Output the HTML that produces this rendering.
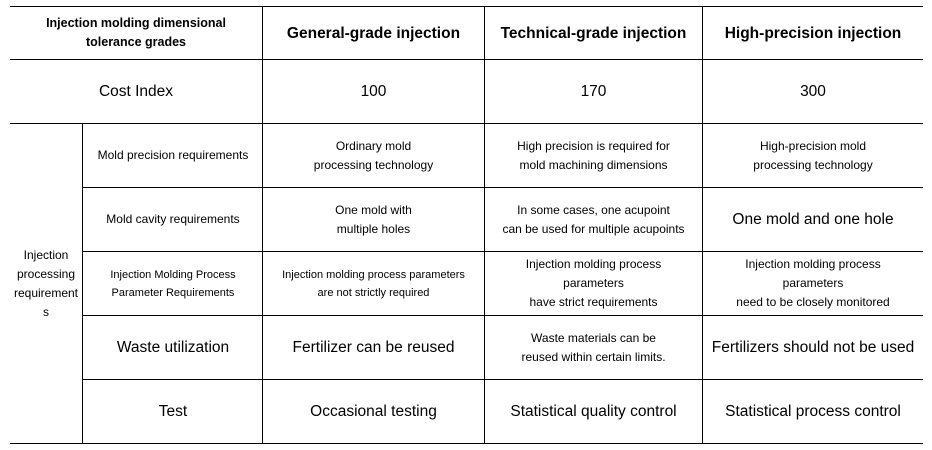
<!DOCTYPE html><html><head><style>
body{margin:0;width:932px;height:450px;background:#fff;position:relative;font-family:"Liberation Sans",sans-serif;color:#000;overflow:hidden}
.h{position:absolute;height:1px;background:#000}
.v{position:absolute;width:1px;background:#000}
.c{position:absolute;display:flex;align-items:center;justify-content:center;text-align:center;line-height:19px}
.s{font-size:12px}.m{font-size:15.5px}.b{font-weight:bold}
</style></head><body>
<div class="h" style="left:10px;width:913px;top:6px"></div>
<div class="h" style="left:10px;width:913px;top:59px"></div>
<div class="h" style="left:10px;width:913px;top:123px"></div>
<div class="h" style="left:82px;width:841px;top:187px"></div>
<div class="h" style="left:82px;width:841px;top:251px"></div>
<div class="h" style="left:82px;width:841px;top:315px"></div>
<div class="h" style="left:82px;width:841px;top:379px"></div>
<div class="h" style="left:10px;width:913px;top:443px"></div>
<div class="v" style="left:262px;top:6px;height:438px"></div>
<div class="v" style="left:484px;top:6px;height:438px"></div>
<div class="v" style="left:702px;top:6px;height:438px"></div>
<div class="v" style="left:82px;top:123px;height:321px"></div>

<div class="c b" style="left:10px;width:252px;top:7px;height:52px;font-size:12.5px">Injection molding dimensional<br>tolerance grades</div>
<div class="c b m" style="left:263px;width:221px;top:7px;height:52px">General-grade injection</div>
<div class="c b m" style="left:485px;width:217px;top:7px;height:52px">Technical-grade injection</div>
<div class="c b m" style="left:703px;width:220px;top:7px;height:52px">High-precision injection</div>

<div class="c m" style="left:10px;width:252px;top:60px;height:63px">Cost Index</div>
<div class="c m" style="left:263px;width:221px;top:60px;height:63px">100</div>
<div class="c m" style="left:485px;width:217px;top:60px;height:63px">170</div>
<div class="c m" style="left:703px;width:220px;top:60px;height:63px">300</div>

<div class="c s" style="left:10px;width:72px;top:124px;height:319px">Injection<br>processing<br>requirement<br>s</div>

<div class="c s" style="left:84px;width:178px;top:124px;height:63px">Mold precision requirements</div>
<div class="c s" style="left:263px;width:221px;top:124px;height:63px">Ordinary mold<br>processing technology</div>
<div class="c s" style="left:485px;width:217px;top:124px;height:63px">High precision is required for<br>mold machining dimensions</div>
<div class="c s" style="left:703px;width:220px;top:124px;height:63px">High-precision mold<br>processing technology</div>

<div class="c s" style="left:84px;width:178px;top:188px;height:63px">Mold cavity requirements</div>
<div class="c s" style="left:263px;width:221px;top:188px;height:63px">One mold with<br>multiple holes</div>
<div class="c s" style="left:485px;width:217px;top:188px;height:63px">In some cases, one acupoint<br>can be used for multiple acupoints</div>
<div class="c m" style="left:703px;width:220px;top:188px;height:63px">One mold and one hole</div>

<div class="c" style="left:84px;width:178px;top:252px;height:63px;font-size:11px;line-height:18px">Injection Molding Process<br>Parameter Requirements</div>
<div class="c" style="left:263px;width:221px;top:252px;height:63px;font-size:11px;line-height:18px">Injection molding process parameters<br>are not strictly required</div>
<div class="c s" style="left:485px;width:217px;top:252px;height:63px">Injection molding process<br>parameters<br>have strict requirements</div>
<div class="c s" style="left:703px;width:220px;top:252px;height:63px">Injection molding process<br>parameters<br>need to be closely monitored</div>

<div class="c m" style="left:84px;width:178px;top:316px;height:63px">Waste utilization</div>
<div class="c m" style="left:263px;width:221px;top:316px;height:63px">Fertilizer can be reused</div>
<div class="c s" style="left:485px;width:217px;top:316px;height:63px">Waste materials can be<br>reused within certain limits.</div>
<div class="c m" style="left:703px;width:220px;top:316px;height:63px">Fertilizers should not be used</div>

<div class="c m" style="left:84px;width:178px;top:380px;height:63px">Test</div>
<div class="c m" style="left:263px;width:221px;top:380px;height:63px">Occasional testing</div>
<div class="c m" style="left:485px;width:217px;top:380px;height:63px">Statistical quality control</div>
<div class="c m" style="left:703px;width:220px;top:380px;height:63px">Statistical process control</div>
</body></html>
